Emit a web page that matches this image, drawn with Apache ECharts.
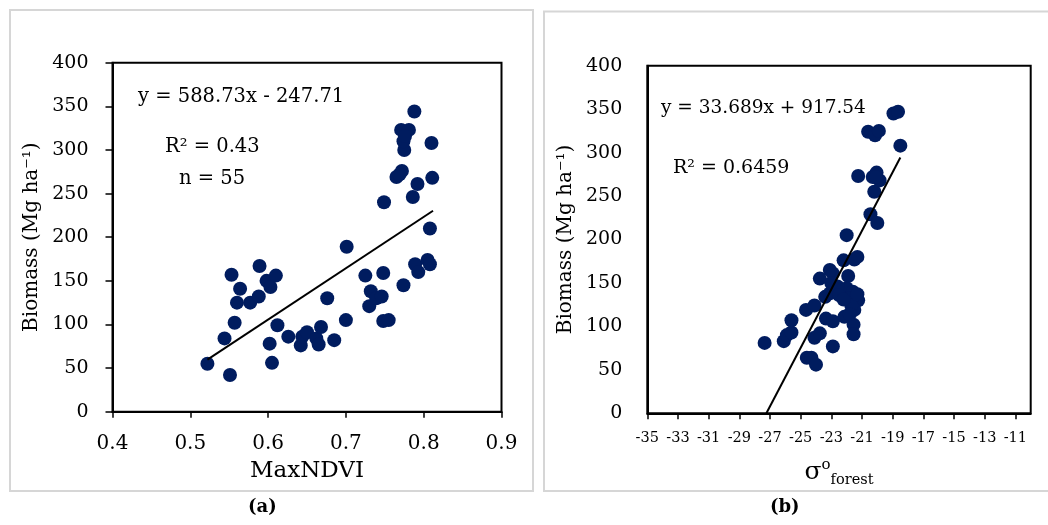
<!DOCTYPE html>
<html>
<head>
<meta charset="utf-8">
<script src="https://cdn.jsdelivr.net/npm/echarts@6/dist/echarts.min.js"></script>
<style>
html,body{margin:0;padding:0;background:#fff;}
#c{width:1048px;height:525px;}
</style>
</head>
<body>
<div id="c"></div>
<script>
// Panel (a): MaxNDVI vs Biomass
var ndviPoints = [
  [0.522,55],[0.551,42],[0.544,84],[0.557,102],[0.553,157],[0.564,141],[0.560,125],[0.577,125],[0.588,132],[0.589,167],
  [0.598,150],[0.603,143],[0.610,156],[0.602,78],[0.605,56],[0.612,99],[0.626,86],[0.642,76],[0.644,86],[0.650,91],
  [0.662,84],[0.665,77],[0.668,97],[0.676,130],[0.685,82],[0.700,105],[0.701,189],[0.725,156],[0.730,121],[0.732,138],
  [0.739,130],[0.746,132],[0.748,159],[0.748,104],[0.755,105],[0.749,240],[0.774,145],[0.765,269],[0.772,276],[0.775,300],
  [0.774,310],[0.771,323],[0.781,323],[0.788,344],[0.786,246],[0.792,261],[0.810,308],[0.811,268],[0.808,210],[0.789,169],
  [0.793,160],[0.805,174],[0.808,169],[0.769,272],[0.776,316]
];
var ndviTrend = [[0.522,59.6],[0.812,230.3]];
var ndviTicks = [0.4,0.5,0.6,0.7,0.8,0.9];

// Panel (b): sigma0 forest vs Biomass
var sigmaPoints = [
  [-27.35,81],[-26.1,83],[-25.9,90],[-25.6,93],[-25.6,107],[-24.65,119],[-24.1,124],[-24.6,64],[-24.3,64],[-24.0,56],
  [-24.1,87],[-23.75,92],[-23.75,155],[-23.1,165],[-22.9,161],[-23.4,134],[-23.1,138],[-23.35,109],[-22.9,106],[-22.9,77],
  [-22.0,205],[-22.2,176],[-21.3,180],[-21.5,177],[-21.9,158],[-22.4,142],[-22.0,144],[-21.6,140],[-21.25,130],[-21.9,132],
  [-21.5,119],[-21.55,102],[-21.55,91],[-22.15,111],[-21.25,273],[-20.45,229],[-20.0,219],[-20.2,255],[-20.05,277],[-20.3,272],
  [-19.85,268],[-20.6,324],[-20.15,320],[-19.9,325],[-18.95,345],[-18.65,347],[-18.5,308],[-22.6,146],[-22.5,136],[-21.7,124],
  [-22.2,131],[-23.0,150],[-21.8,114],[-21.3,137],[-20.1,272]
];
var sigmaTrend = [[-27.235,0],[-18.5,294.3]];
var sigmaTicks = [-35,-33,-31,-29,-27,-25,-23,-21,-19,-17,-15,-13,-11];

var biomassTicks = [0,50,100,150,200,250,300,350,400];

var FONT = 'DejaVu Serif';
var DOT = '#001c5f';

function txt(left, top, s, size, weight) {
  return {type:'text', left:left, top:top,
    style:{text:s, fontFamily:FONT, fontSize:size, fontWeight:weight || 'normal', fill:'#000'}};
}

var chart = echarts.init(document.getElementById('c'), null, {renderer:'canvas'});
var option = {
  animation:false,
  backgroundColor:'#fff',
  textStyle:{fontFamily:FONT, color:'#000'},
  grid:[
    {left:112.5, top:62.7, width:389, height:349, show:true, borderColor:'#000', borderWidth:2, backgroundColor:'transparent'},
    {left:647.3, top:65.7, width:383.4, height:347.6, show:true, borderColor:'#000', borderWidth:2, backgroundColor:'transparent'}
  ],
  xAxis:[
    {gridIndex:0, type:'value', min:ndviTicks[0], max:ndviTicks[ndviTicks.length-1], interval:0.1,
     axisLine:{lineStyle:{color:'#000', width:2}},
     axisTick:{show:true, length:6, inside:false, lineStyle:{color:'#000', width:1.5}},
     axisLabel:{fontFamily:FONT, fontSize:20, color:'#000', margin:22, formatter:function(v){return v.toFixed(1);}},
     splitLine:{show:false},
     name:'MaxNDVI', nameLocation:'middle', nameGap:48,
     nameTextStyle:{fontFamily:FONT, fontSize:23, color:'#000'}},
    {gridIndex:1, type:'value', min:-35, max:-10, interval:2,
     axisLine:{lineStyle:{color:'#000', width:2}},
     axisTick:{show:true, length:6, inside:false, customValues:sigmaTicks, lineStyle:{color:'#000', width:1.5}},
     axisLabel:{fontFamily:FONT, fontSize:14.5, color:'#000', margin:17, customValues:sigmaTicks},
     splitLine:{show:false},
     name:'{s|σ}{p|o}{b|forest}', nameLocation:'middle', nameGap:44,
     nameTextStyle:{fontFamily:FONT, color:'#000',
       rich:{
         s:{fontFamily:FONT, fontSize:25, lineHeight:30, verticalAlign:'middle', color:'#000'},
         p:{fontFamily:FONT, fontSize:15, lineHeight:30, verticalAlign:'top', color:'#000'},
         b:{fontFamily:FONT, fontSize:14.5, lineHeight:30, verticalAlign:'bottom', color:'#000'}
       }}}
  ],
  yAxis:[
    {gridIndex:0, type:'value', min:biomassTicks[0], max:biomassTicks[biomassTicks.length-1], interval:50,
     axisLine:{lineStyle:{color:'#000', width:2}},
     axisTick:{show:true, length:7, inside:false, lineStyle:{color:'#000', width:1.5}},
     axisLabel:{fontFamily:FONT, fontSize:19, color:'#000', margin:24},
     splitLine:{show:false},
     name:'Biomass (Mg ha⁻¹)', nameLocation:'middle', nameGap:71, nameRotate:90,
     nameTextStyle:{fontFamily:FONT, fontSize:20, color:'#000'}},
    {gridIndex:1, type:'value', min:biomassTicks[0], max:biomassTicks[biomassTicks.length-1], interval:50,
     axisLine:{lineStyle:{color:'#000', width:2}},
     axisTick:{show:false},
     axisLabel:{fontFamily:FONT, fontSize:19, color:'#000', margin:25},
     splitLine:{show:false},
     name:'Biomass (Mg ha⁻¹)', nameLocation:'middle', nameGap:72, nameRotate:90,
     nameTextStyle:{fontFamily:FONT, fontSize:20, color:'#000'}}
  ],
  series:[
    {type:'scatter', xAxisIndex:0, yAxisIndex:0, data:ndviPoints, symbol:'circle', symbolSize:14,
     itemStyle:{color:DOT, opacity:1}, z:2},
    {type:'line', xAxisIndex:0, yAxisIndex:0, data:ndviTrend, symbol:'none', smooth:false,
     lineStyle:{color:'#000', width:2}, z:3},
    {type:'scatter', xAxisIndex:1, yAxisIndex:1, data:sigmaPoints, symbol:'circle', symbolSize:14,
     itemStyle:{color:DOT, opacity:1}, z:2},
    {type:'line', xAxisIndex:1, yAxisIndex:1, data:sigmaTrend, symbol:'none', smooth:false,
     lineStyle:{color:'#000', width:2}, z:3}
  ],
  graphic:[
    {type:'rect', shape:{x:10, y:10, width:523, height:481}, style:{fill:'none', stroke:'#d6d6d6', lineWidth:2}, z:-1, silent:true},
    {type:'rect', shape:{x:544, y:11.5, width:512, height:479.5}, style:{fill:'none', stroke:'#d6d6d6', lineWidth:2}, z:-1, silent:true},
    txt(138, 87, 'y = 588.73x - 247.71', 19.5),
    txt(165, 137, 'R² = 0.43', 19.5),
    txt(179, 169, 'n = 55', 19.5),
    txt(661, 99, 'y = 33.689x + 917.54', 18.5),
    txt(673, 159, 'R² = 0.6459', 19),
    txt(248, 498, '(a)', 18, 'bold'),
    txt(770, 498, '(b)', 18, 'bold')
  ]
};
chart.setOption(option);
</script>
</body>
</html>
